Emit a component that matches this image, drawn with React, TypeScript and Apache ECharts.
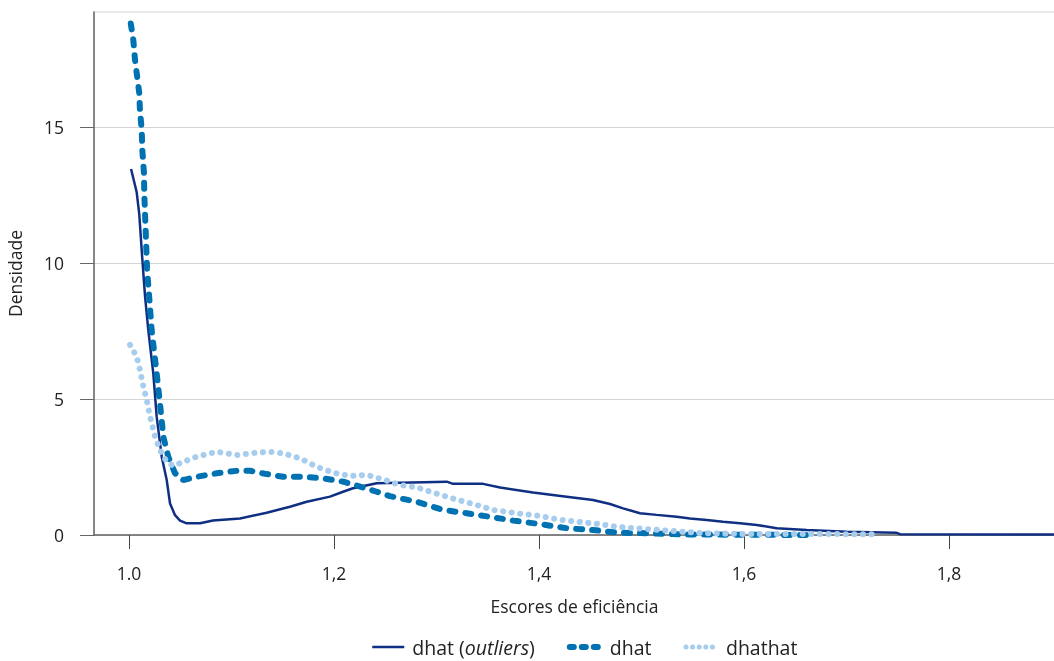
import React, { useEffect, useRef } from "react";
import * as echarts from "echarts";

// x values (efficiency scores) and densities
const outliersX = [1.002, 1.0075, 1.010, 1.0127, 1.0156, 1.0188, 1.0237, 1.027, 1.0319, 1.0368, 1.040, 1.0449, 1.0498, 1.0563, 1.0693, 1.082, 1.1083, 1.1343, 1.1571, 1.1734, 1.1961, 1.2088, 1.2185, 1.2417, 1.31, 1.3161, 1.3454, 1.362, 1.3941, 1.427, 1.4527, 1.4693, 1.482, 1.4985, 1.5148, 1.5343, 1.5473, 1.5636, 1.5795, 1.5961, 1.6124, 1.6319, 1.6612, 1.7002, 1.749, 1.7522, 1.9024];
const outliersY = [13.46, 12.6, 11.8, 10.3, 8.8, 7.54, 5.94, 4.35, 2.88, 2.02, 1.16, 0.73, 0.53, 0.43, 0.43, 0.53, 0.61, 0.82, 1.04, 1.22, 1.41, 1.59, 1.72, 1.9, 1.96, 1.88, 1.88, 1.75, 1.56, 1.41, 1.29, 1.14, 0.98, 0.80, 0.74, 0.67, 0.61, 0.55, 0.49, 0.43, 0.37, 0.25, 0.18, 0.12, 0.08, 0.03, 0.02];

const dhatX = [1.0017, 1.0042, 1.0059, 1.0085, 1.01, 1.0107, 1.0124, 1.013, 1.0146, 1.0149, 1.0176, 1.0221, 1.027, 1.0302, 1.0335, 1.0383, 1.0449, 1.053, 1.066, 1.0856, 1.1051, 1.118, 1.1343, 1.1505, 1.17, 1.1896, 1.2091, 1.2254, 1.2417, 1.2546, 1.2644, 1.2807, 1.3066, 1.3295, 1.3554, 1.3749, 1.401, 1.427, 1.453, 1.4758, 1.5083, 1.5405, 1.599, 1.667];
const dhatY = [18.81, 18.2, 17.46, 16.7, 16.24, 15.6, 14.9, 14.15, 13.3, 12.56, 9.8, 7.54, 5.94, 4.84, 3.61, 2.88, 2.27, 2.02, 2.14, 2.27, 2.36, 2.36, 2.24, 2.14, 2.14, 2.08, 1.96, 1.78, 1.59, 1.43, 1.35, 1.22, 0.92, 0.80, 0.65, 0.53, 0.40, 0.25, 0.18, 0.09, 0.06, 0.02, 0.01, 0.0];

const dhathatX = [1.001, 1.0075, 1.0107, 1.014, 1.0173, 1.0205, 1.0254, 1.0302, 1.0368, 1.0432, 1.053, 1.066, 1.0856, 1.1051, 1.1246, 1.1376, 1.1505, 1.1668, 1.1831, 1.1993, 1.2156, 1.2319, 1.2481, 1.2644, 1.2807, 1.2969, 1.3197, 1.3392, 1.3554, 1.3782, 1.401, 1.4173, 1.4368, 1.4595, 1.4758, 1.5083, 1.5408, 1.5571, 1.5961, 1.7259];
const dhathatY = [6.99, 6.56, 6.07, 5.45, 4.96, 4.35, 3.61, 3.13, 2.69, 2.54, 2.69, 2.88, 3.06, 2.94, 3.03, 3.06, 3.0, 2.82, 2.51, 2.29, 2.17, 2.21, 2.04, 1.84, 1.75, 1.56, 1.30, 1.10, 0.92, 0.80, 0.70, 0.58, 0.49, 0.40, 0.30, 0.21, 0.12, 0.07, 0.04, 0.03];

const xTicks = [1.0, 1.2, 1.4, 1.6, 1.8];
const yTicks = [0, 5, 10, 15];
const seriesNames = ["dhat (outliers)", "dhat", "dhathat"];

const zip = (xs: number[], ys: number[]) => xs.map((x, i) => [x, ys[i]]);

export default function App() {
  const ref = useRef<HTMLDivElement>(null);
  useEffect(() => {
    if (!ref.current) return;
    const chart = echarts.init(ref.current, null, { renderer: "svg" });
    const font = "'Open Sans', sans-serif";
    const axisFont = 17.5;
    const legendFont = 19.5;
    const richBase = { fontSize: legendFont, color: "#222", fontFamily: font };
    chart.setOption({
      animation: false,
      textStyle: { fontFamily: font },
      grid: {
        left: 94,
        top: 12,
        right: -1,
        bottom: 126,
        outerBoundsMode: "none",
        containLabel: false,
        show: true,
        borderColor: "#d4d4d4",
        borderWidth: 1,
      },
      legend: {
        bottom: -1,
        left: 366,
        itemWidth: 32,
        itemHeight: 10,
        itemGap: 32,
        itemStyle: { color: "rgba(0,0,0,0)", borderWidth: 0, opacity: 0 },
        textStyle: {
          ...richBase,
          rich: {
            f: { ...richBase, padding: [0, 0, 0, 3] },
            n: richBase,
            i: { ...richBase, fontStyle: "italic" },
          },
        },
        formatter: (name: string) =>
          name === seriesNames[0]
            ? "{f|dhat (}{i|outliers}{n|)}"
            : "{f|" + name + "}",
        data: [
          { name: seriesNames[0], lineStyle: { width: 2.5 } },
          { name: seriesNames[1], lineStyle: { width: 6, type: [4, 8], cap: "round" } },
          { name: seriesNames[2], lineStyle: { width: 5, type: [0.1, 6.5], cap: "round" } },
        ],
      },
      xAxis: {
        type: "value",
        min: 0.96585,
        max: 1.9034,
        name: "Escores de eficiência",
        nameLocation: "middle",
        nameGap: 62,
        nameTextStyle: { fontSize: axisFont, color: "#222", fontFamily: font },
        axisLine: { show: true, lineStyle: { color: "#666", width: 1.5 } },
        axisTick: {
          show: true,
          length: 14,
          customValues: xTicks,
          lineStyle: { color: "#444", width: 1 },
        },
        axisLabel: {
          customValues: xTicks,
          margin: 29,
          fontSize: axisFont,
          color: "#222",
          fontFamily: font,
          formatter: (v: number) =>
            Math.abs(v - 1) < 1e-9 ? "1.0" : v.toFixed(1).replace(".", ","),
        },
        splitLine: { show: false },
      },
      yAxis: {
        type: "value",
        min: 0,
        max: 19.23,
        interval: 5,
        name: "Densidade",
        nameLocation: "middle",
        nameGap: 70,
        nameTextStyle: { fontSize: axisFont, color: "#222", fontFamily: font },
        axisLine: { show: true, lineStyle: { color: "#666", width: 1.5 } },
        axisTick: {
          show: true,
          length: 14,
          customValues: yTicks,
          lineStyle: { color: "#666", width: 1 },
        },
        axisLabel: {
          customValues: yTicks,
          margin: 30,
          fontSize: axisFont,
          color: "#222",
          fontFamily: font,
        },
        splitLine: { show: true, lineStyle: { color: "#d4d4d4", width: 1 } },
      },
      series: [
        {
          name: seriesNames[0],
          type: "line",
          symbol: "none",
          showSymbol: false,
          data: zip(outliersX, outliersY),
          lineStyle: { color: "#0f2f82", width: 2.5 },
          itemStyle: { color: "#0f2f82" },
          z: 2,
        },
        {
          name: seriesNames[1],
          type: "line",
          symbol: "none",
          showSymbol: false,
          data: zip(dhatX, dhatY),
          lineStyle: { color: "#0072b2", width: 6, type: [6, 10], cap: "round" },
          itemStyle: { color: "#0072b2" },
          z: 3,
        },
        {
          name: seriesNames[2],
          type: "line",
          symbol: "none",
          showSymbol: false,
          data: zip(dhathatX, dhathatY),
          lineStyle: { color: "#a7cdee", width: 6, type: [0.1, 8.5], cap: "round" },
          itemStyle: { color: "#a7cdee" },
          z: 4,
        },
      ],
    });
    return () => chart.dispose();
  }, []);
  return (
    <div
      ref={ref}
      style={{ position: "fixed", left: 0, top: 0, width: 1054, height: 661 }}
    />
  );
}
